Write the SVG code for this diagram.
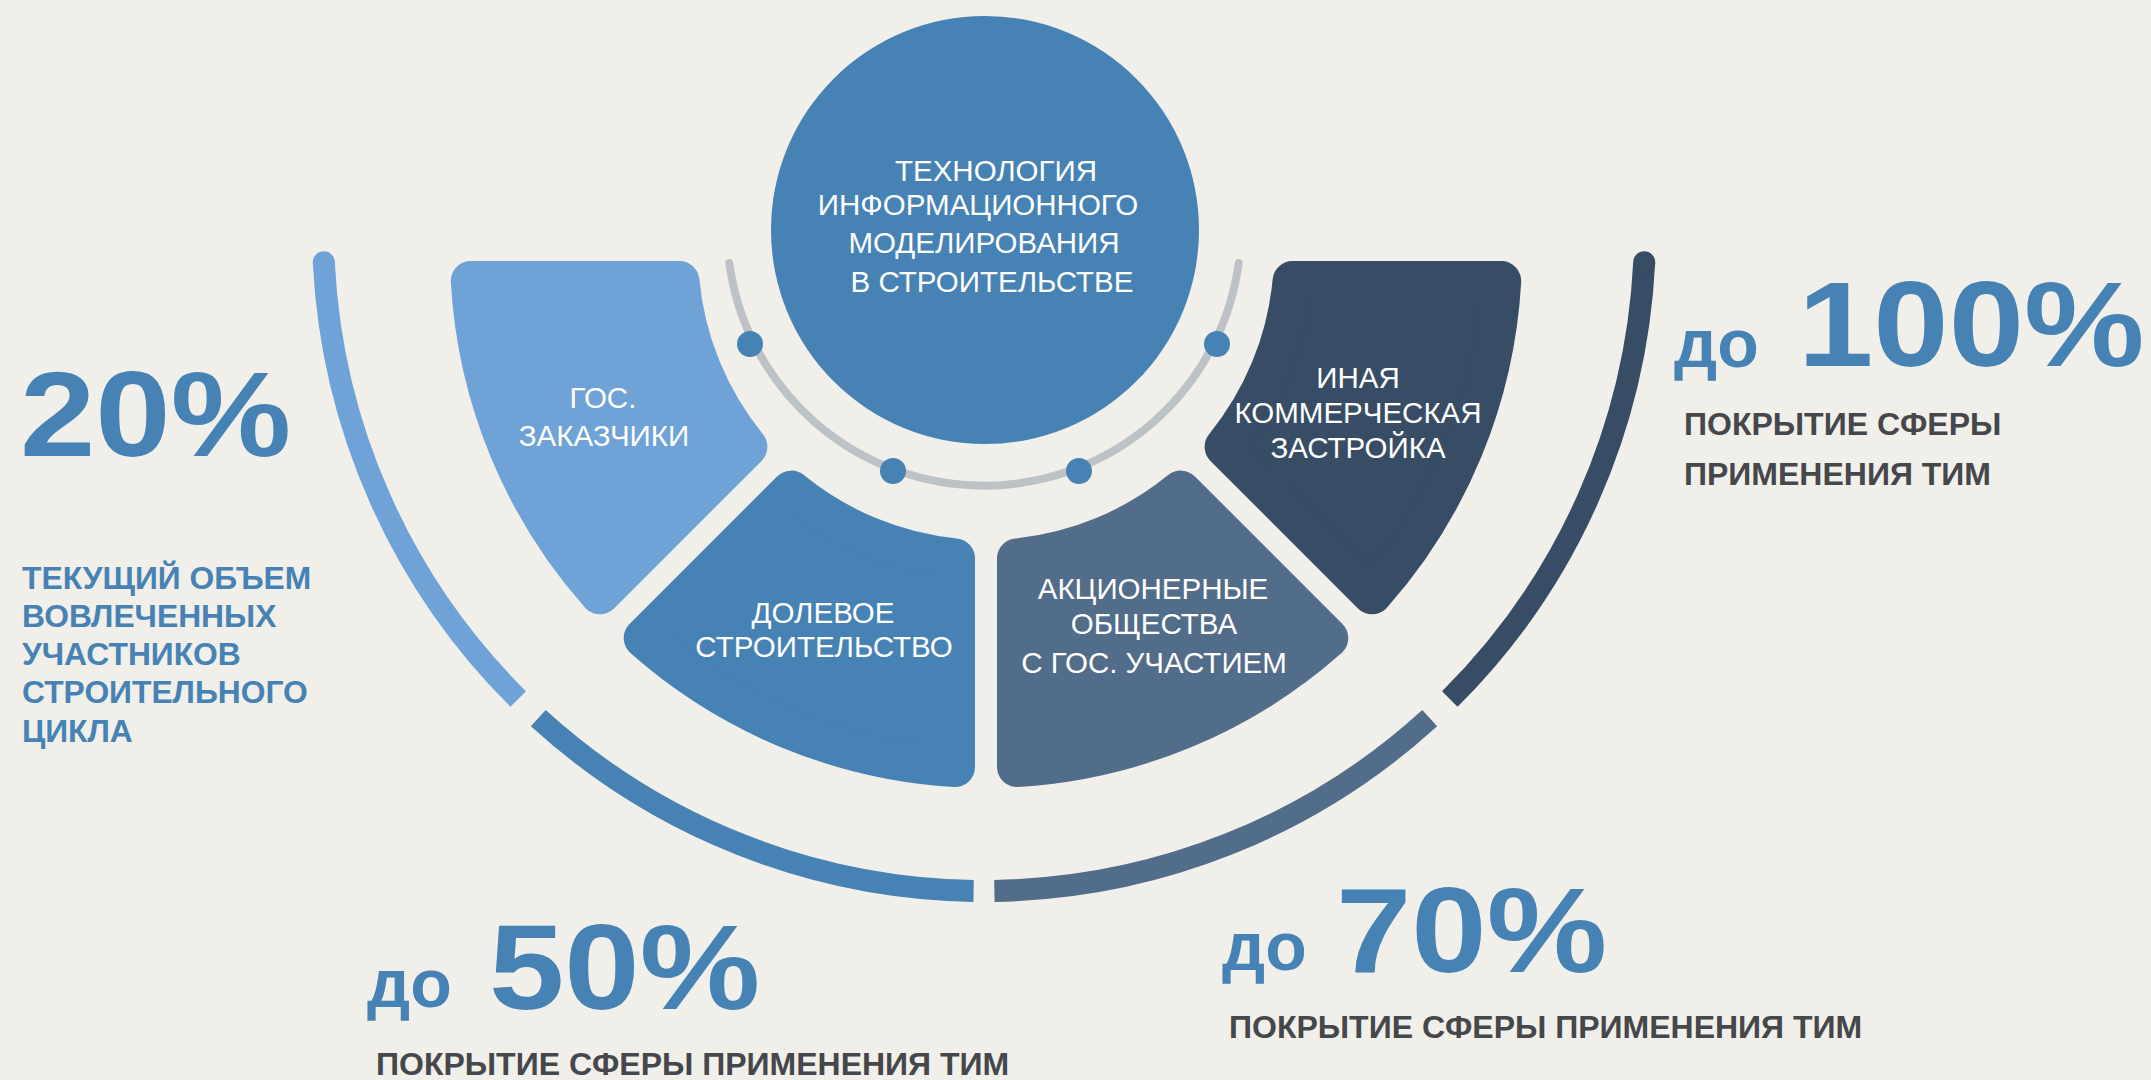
<svg xmlns="http://www.w3.org/2000/svg" width="2151" height="1080" viewBox="0 0 2151 1080">
  <style>
    .lbl { font-family: "Liberation Sans", Arial, sans-serif; font-size: 29.5px; fill: #ffffff; text-anchor: middle; }
    .big { font-family: "Liberation Sans", Arial, sans-serif; font-weight: bold; font-size: 121px; fill: #4682b4; }
    .do { font-family: "Liberation Sans", Arial, sans-serif; font-weight: bold; font-size: 68px; fill: #4682b4; }
    .cap { font-family: "Liberation Sans", Arial, sans-serif; font-weight: bold; font-size: 32px; fill: #45474a; }
    .blue { font-family: "Liberation Sans", Arial, sans-serif; font-weight: bold; font-size: 31.8px; fill: #4682b4; }
    .petal { stroke-width: 40; stroke-linejoin: round; }
    .ring { fill: none; stroke-width: 22; stroke-linecap: butt; }
  </style>
  <rect x="0" y="0" width="2151" height="1080" fill="#f0efea"/>

  <g id="connectors">
    <path d="M 729.3,263 A 257 257 0 0 0 1238.7,263" fill="none" stroke="#bdc2c6" stroke-width="8" stroke-linecap="round"/>
    <circle cx="750" cy="344" r="13" fill="#4682b4"/>
    <circle cx="893" cy="471" r="13" fill="#4682b4"/>
    <circle cx="1079" cy="471" r="13" fill="#4682b4"/>
    <circle cx="1217" cy="344" r="13" fill="#4682b4"/>
  </g>

  <g id="ring">
    <path class="ring" stroke="#6fa2d6" d="M 323.8,262.3 A 661 661 0 0 0 518.2,699.0"/>
    <circle cx="323.8" cy="262.3" r="11" fill="#6fa2d6"/>
    <path class="ring" stroke="#4682b4" d="M 538.3,718.1 A 661 661 0 0 0 973.6,890.9"/>
    <path class="ring" stroke="#526d8a" d="M 994.4,890.9 A 661 661 0 0 0 1429.7,718.1"/>
    <path class="ring" stroke="#374d66" d="M 1449.8,699.0 A 661 661 0 0 0 1644.2,262.3"/>
    <circle cx="1644.2" cy="262.3" r="11" fill="#374d66"/>
  </g>

  <g id="center">
    <circle cx="985" cy="230" r="214" fill="#4682b4"/>
    <text class="lbl" x="996" y="181">ТЕХНОЛОГИЯ</text>
    <text class="lbl" x="978" y="215">ИНФОРМАЦИОННОГО</text>
    <text class="lbl" x="984" y="253">МОДЕЛИРОВАНИЯ</text>
    <text class="lbl" x="992" y="292">В СТРОИТЕЛЬСТВЕ</text>
  </g>

  <g id="gos">
    <path class="petal" fill="#6fa2d6" stroke="#6fa2d6" d="M 470.8,281 L 679.4,281 A 308 308 0 0 0 747.4,446.8 L 599.9,594.3 A 516 516 0 0 1 470.8,281 Z"/>
    <text class="lbl" x="603" y="408">ГОС.</text>
    <text class="lbl" x="604" y="446">ЗАКАЗЧИКИ</text>
  </g>

  <g id="dolevoe">
    <path class="petal" fill="#4682b4" stroke="#4682b4" d="M 791.2,490.6 A 308 308 0 0 0 955,558.4 L 955,767.1 A 516 516 0 0 1 643.7,638.1 Z"/>
    <text class="lbl" x="823" y="623">ДОЛЕВОЕ</text>
    <text class="lbl" x="824" y="657">СТРОИТЕЛЬСТВО</text>
  </g>

  <g id="ao">
    <path class="petal" fill="#526d8a" stroke="#526d8a" d="M 1017,558.4 A 308 308 0 0 0 1180.8,490.6 L 1328.3,638.1 A 516 516 0 0 1 1017,767.1 Z"/>
    <text class="lbl" x="1153" y="599">АКЦИОНЕРНЫЕ</text>
    <text class="lbl" x="1154" y="634">ОБЩЕСТВА</text>
    <text class="lbl" x="1154" y="673">С ГОС. УЧАСТИЕМ</text>
  </g>

  <g id="inaya">
    <path class="petal" fill="#374d66" stroke="#374d66" d="M 1501.2,281 L 1292.6,281 A 308 308 0 0 1 1224.6,446.8 L 1372.1,594.3 A 516 516 0 0 0 1501.2,281 Z"/>
    <text class="lbl" x="1358" y="388">ИНАЯ</text>
    <text class="lbl" x="1358" y="423">КОММЕРЧЕСКАЯ</text>
    <text class="lbl" x="1358" y="458">ЗАСТРОЙКА</text>
  </g>

  <g id="stat-20">
    <text class="big" transform="translate(20,456) scale(1.12,1)" x="0" y="0">20%</text>
    <text class="blue" x="22" y="589">ТЕКУЩИЙ ОБЪЕМ</text>
    <text class="blue" x="22" y="627">ВОВЛЕЧЕННЫХ</text>
    <text class="blue" x="22" y="665">УЧАСТНИКОВ</text>
    <text class="blue" x="22" y="703">СТРОИТЕЛЬНОГО</text>
    <text class="blue" x="22" y="742">ЦИКЛА</text>
  </g>

  <g id="stat-100">
    <text class="do" x="1674" y="367">до</text>
    <text class="big" transform="translate(1798,366) scale(1.12,1)" x="0" y="0">100%</text>
    <text class="cap" x="1684" y="435">ПОКРЫТИЕ СФЕРЫ</text>
    <text class="cap" x="1684" y="485">ПРИМЕНЕНИЯ ТИМ</text>
  </g>

  <g id="stat-50">
    <text class="do" x="367" y="1007">до</text>
    <text class="big" transform="translate(489,1009) scale(1.12,1)" x="0" y="0">50%</text>
    <text class="cap" x="376" y="1075">ПОКРЫТИЕ СФЕРЫ ПРИМЕНЕНИЯ ТИМ</text>
  </g>

  <g id="stat-70">
    <text class="do" x="1222" y="970">до</text>
    <text class="big" transform="translate(1336,972) scale(1.12,1)" x="0" y="0">70%</text>
    <text class="cap" x="1229" y="1038">ПОКРЫТИЕ СФЕРЫ ПРИМЕНЕНИЯ ТИМ</text>
  </g>
</svg>
